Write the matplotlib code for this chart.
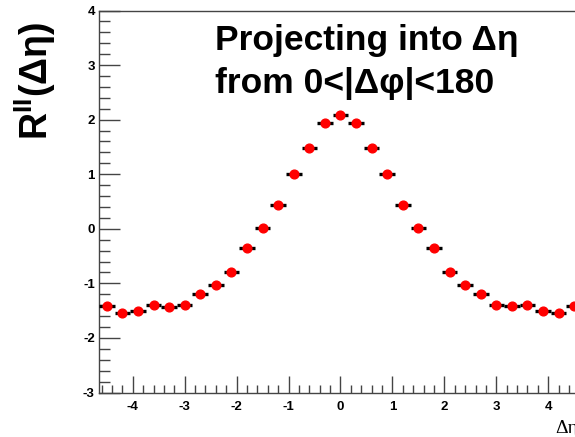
import numpy as np
import matplotlib
matplotlib.use("Agg")
import matplotlib.pyplot as plt
from matplotlib.ticker import MultipleLocator

plt.rcParams['mathtext.fontset'] = 'custom'
plt.rcParams['mathtext.rm'] = 'Liberation Sans:bold'
plt.rcParams['mathtext.bf'] = 'Liberation Sans:bold'
plt.rcParams['axes.unicode_minus'] = False

# data
deta = [-4.5, -4.2, -3.9, -3.6, -3.3, -3.0, -2.7, -2.4, -2.1, -1.8, -1.5, -1.2, -0.9, -0.6, -0.3,
        0.0, 0.3, 0.6, 0.9, 1.2, 1.5, 1.8, 2.1, 2.4, 2.7, 3.0, 3.3, 3.6, 3.9, 4.2, 4.5]
rll = [-1.42, -1.54, -1.50, -1.40, -1.43, -1.40, -1.19, -1.03, -0.79, -0.36, 0.01, 0.44, 1.01, 1.48, 1.94,
       2.08, 1.94, 1.48, 1.01, 0.44, 0.01, -0.35, -0.79, -1.03, -1.19, -1.40, -1.42, -1.40, -1.50, -1.54, -1.42]
bin_half = 0.15
xticks = [-4, -3, -2, -1, 0, 1, 2, 3, 4]
yticks = [-3, -2, -1, 0, 1, 2, 3, 4]
title_lines = ["Projecting into \u0394\u03b7", "from 0<|\u0394\u03c6|<180"]

fig = plt.figure(figsize=(5.75, 4.37), dpi=100)
ax = fig.add_axes([99 / 575, 1 - 392.5 / 437, 483 / 575, (392.5 - 10.5) / 437])

ax.errorbar(deta, rll, xerr=bin_half, fmt='o', color='red', mec='red', ms=6.3,
            ecolor='black', elinewidth=2.4, capsize=0, zorder=3)

ax.set_xlim(-4.65, 4.65)
ax.set_ylim(-3, 4)
ax.set_xticks(xticks)
ax.set_yticks(yticks)
ax.xaxis.set_minor_locator(MultipleLocator(0.2))
ax.yaxis.set_minor_locator(MultipleLocator(0.2))
ax.tick_params(which='both', direction='in', color='#444444', width=1.0)
ax.tick_params(which='major', axis='x', length=12, pad=6)
ax.tick_params(which='minor', axis='x', length=6)
ax.tick_params(which='major', axis='y', length=15, pad=3)
ax.tick_params(which='minor', axis='y', length=8)
for lab in ax.get_xticklabels() + ax.get_yticklabels():
    lab.set_fontfamily('Liberation Sans')
    lab.set_fontweight('bold')
    lab.set_fontsize(9.5)
for s in ax.spines.values():
    s.set_color('#444444')
    s.set_linewidth(1.0)

fig.text(215 / 575, 1 - 50 / 437, title_lines[0], fontsize=25.5, fontweight='bold',
         family='Liberation Sans', ha='left', va='baseline')
fig.text(215 / 575, 1 - 93 / 437, title_lines[1], fontsize=25.5, fontweight='bold',
         family='Liberation Sans', ha='left', va='baseline')

fig.text(35 / 575, 1 - 81 / 437, r'R$^{\mathbf{II}}$(' + '\u0394\u03b7)', rotation=90,
         fontsize=27, fontweight='bold', family='Liberation Sans', ha='center', va='center')

fig.text(555 / 575, 1 - 433 / 437, '\u0394\u03b7', fontsize=14, family='Liberation Serif',
         ha='left', va='baseline')

fig.savefig('out.png', dpi=100)
